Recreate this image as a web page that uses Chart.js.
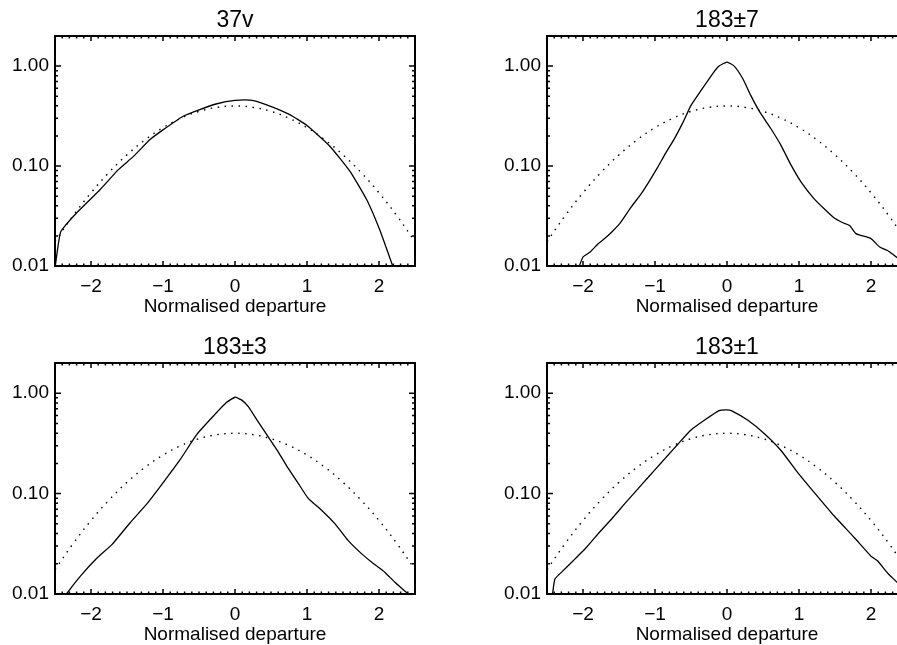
<!DOCTYPE html>
<html>
<head>
<meta charset="utf-8">
<script src="https://cdn.jsdelivr.net/npm/chart.js@4.4.0/dist/chart.umd.min.js"></script>
<style>
  html, body { margin: 0; padding: 0; background: #fff; overflow: hidden; width: 897px; height: 645px; }
  canvas { position: absolute; }
</style>
</head>
<body>
<canvas id="c1" width="448" height="320" style="left:0;top:0"></canvas>
<canvas id="c2" width="448" height="320" style="left:492px;top:0"></canvas>
<canvas id="c3" width="448" height="321" style="left:0;top:327px"></canvas>
<canvas id="c4" width="448" height="321" style="left:492px;top:327px"></canvas>
<script>
// Axis ticks
const xTicks = [-2, -1, 0, 1, 2];
const yTicks = [0.01, 0.1, 1];
const yTickLabels = ['0.01', '0.10', '1.00'];
const xLabel = 'Normalised departure';

// Reference normal curve (dotted)
const gaussX = [-2.5, -2.25, -2, -1.75, -1.5, -1.25, -1, -0.75, -0.5, -0.25, 0,
                0.25, 0.5, 0.75, 1, 1.25, 1.5, 1.75, 2, 2.25, 2.5];
const gaussY = [0.0175, 0.0317, 0.054, 0.0863, 0.1295, 0.1826, 0.242, 0.3011, 0.3521, 0.3867, 0.3989,
                0.3867, 0.3521, 0.3011, 0.242, 0.1826, 0.1295, 0.0863, 0.054, 0.0317, 0.0175];

// Observed distributions (solid)
const x37v = [-2.5, -2.42, -2.2, -1.875, -1.62, -1.41, -1.18, -1.0, -0.72, -0.49, -0.25, 0, 0.21,
              0.44, 0.76, 1.0, 1.32, 1.6, 1.83, 2.01, 2.19, 2.3];
const y37v = [0.0095, 0.022, 0.034, 0.058, 0.092, 0.125, 0.184, 0.23, 0.315, 0.367, 0.42, 0.453, 0.456,
              0.41, 0.327, 0.254, 0.157, 0.088, 0.046, 0.023, 0.01, 0.006];

const x183p7 = [-2.1, -2.0, -1.90, -1.79, -1.70, -1.60, -1.49, -1.33, -1.19, -1.10, -0.96, -0.87, -0.73, -0.61,
                -0.50, -0.36, -0.20, -0.11, 0, 0.10, 0.22, 0.33, 0.45, 0.61, 0.75, 0.89, 1.03, 1.21, 1.35,
                1.49, 1.61, 1.70, 1.79, 2.0, 2.12, 2.23, 2.32, 2.37, 2.5];
const y183p7 = [0.008, 0.0123, 0.0138, 0.0167, 0.0188, 0.0219, 0.0265, 0.039, 0.053, 0.0666, 0.098, 0.128, 0.188, 0.275,
                0.404, 0.571, 0.838, 1.0, 1.097, 1.0, 0.747, 0.509, 0.352, 0.236, 0.161, 0.102, 0.069, 0.047, 0.0374,
                0.0302, 0.0271, 0.0255, 0.0211, 0.0188, 0.0155, 0.0143, 0.0128, 0.012, 0.0095];

const x183p3 = [-2.45, -2.34, -2.15, -1.92, -1.71, -1.46, -1.23, -1.0, -0.76, -0.53, -0.30, -0.12, 0,
                0.09, 0.185, 0.32, 0.46, 0.60, 0.74, 0.88, 1.02, 1.18, 1.39, 1.57, 1.76, 1.90, 2.08, 2.22, 2.38, 2.5];
const y183p3 = [0.0075, 0.01, 0.015, 0.0227, 0.031, 0.051, 0.078, 0.128, 0.219, 0.389, 0.593, 0.807, 0.912,
                0.858, 0.735, 0.521, 0.369, 0.261, 0.178, 0.126, 0.089, 0.0708, 0.050, 0.0342, 0.0251, 0.0207, 0.0165, 0.0131, 0.0104, 0.0085];

const x183p1 = [-2.45, -2.42, -2.39, -2.29, -2.11, -1.97, -1.79, -1.60, -1.42, -1.24, -1.10, -0.91, -0.82, -0.68,
                -0.50, -0.31, -0.11, 0, 0.06, 0.29, 0.52, 0.75, 0.98, 1.21, 1.49, 1.77, 2.0, 2.09, 2.23, 2.37, 2.5];
const y183p1 = [0.008, 0.0104, 0.0141, 0.0167, 0.0224, 0.0282, 0.0398, 0.0562, 0.0794, 0.111, 0.144, 0.204, 0.241, 0.312,
                0.43, 0.541, 0.671, 0.681, 0.67, 0.537, 0.395, 0.269, 0.163, 0.103, 0.0598, 0.0363, 0.0238, 0.0214, 0.0162, 0.0129, 0.0102];

const panels = [
  { id: 'c1', title: '37v', x: x37v, y: y37v },
  { id: 'c2', title: '183\u00b17', x: x183p7, y: y183p7 },
  { id: 'c3', title: '183\u00b13', x: x183p3, y: y183p3 },
  { id: 'c4', title: '183\u00b11', x: x183p1, y: y183p1 },
];

const FONT = '"Liberation Sans", Arial, Helvetica, sans-serif';

const toPoints = (xs, ys) => xs.map((v, i) => ({ x: v, y: ys[i] }));

// Box frame with inward major/minor ticks (IDL style)
const boxTicks = {
  id: 'boxTicks',
  afterDatasetsDraw(chart) {
    const { ctx, chartArea: a, scales: { x, y } } = chart;
    ctx.save();
    ctx.strokeStyle = '#000';
    ctx.lineWidth = 1.5;
    ctx.beginPath();
    for (let i = -25; i <= 25; i++) {
      const px = x.getPixelForValue(i / 10);
      const len = i % 10 === 0 ? 5 : 2.5;
      ctx.moveTo(px, a.bottom); ctx.lineTo(px, a.bottom - len);
      ctx.moveTo(px, a.top); ctx.lineTo(px, a.top + len);
    }
    for (let e = -2; e <= 0; e++) {
      for (let m = 1; m <= 9; m++) {
        const v = m * Math.pow(10, e);
        if (v > y.max) break;
        const py = y.getPixelForValue(v);
        const len = m === 1 ? 6 : 3;
        ctx.moveTo(a.left, py); ctx.lineTo(a.left + len, py);
        ctx.moveTo(a.right, py); ctx.lineTo(a.right - len, py);
      }
    }
    ctx.stroke();
    ctx.lineWidth = 2;
    ctx.strokeRect(a.left, a.top, a.width, a.height);
    ctx.restore();
  }
};

panels.forEach(p => {
  new Chart(document.getElementById(p.id), {
    type: 'line',
    data: {
      datasets: [
        {
          data: toPoints(p.x, p.y),
          borderColor: '#000',
          borderWidth: 1.3,
          pointRadius: 0,
          tension: 0.15,
        },
        {
          data: toPoints(gaussX, gaussY),
          borderColor: '#000',
          borderWidth: 1.4,
          borderDash: [1.5, 5.5],
          pointRadius: 0,
          tension: 0.4,
        }
      ]
    },
    options: {
      responsive: false,
      animation: false,
      layout: { padding: { left: 0, right: 33, top: 0, bottom: 0 } },
      plugins: {
        legend: { display: false },
        tooltip: { enabled: false },
        title: {
          display: true,
          text: p.title,
          fullSize: false,
          color: '#000',
          font: { family: FONT, size: 23, weight: 'normal' },
          padding: { top: 7, bottom: 1.4 }
        }
      },
      scales: {
        x: {
          type: 'linear',
          min: -2.5,
          max: 2.5,
          grid: { display: false, drawTicks: false },
          border: { display: false },
          afterBuildTicks: s => { s.ticks = xTicks.map(v => ({ value: v })); },
          afterFit: s => { s.height = 54; },
          ticks: {
            color: '#000',
            padding: 9,
            maxRotation: 0,
            font: { family: FONT, size: 19 },
            callback: v => String(v).replace('-', '\u2212')
          },
          title: {
            display: true,
            text: xLabel,
            color: '#000',
            font: { family: FONT, size: 19 },
            padding: { top: 0, bottom: 2 }
          }
        },
        y: {
          type: 'logarithmic',
          min: 0.01,
          max: 2,
          grid: { display: false, drawTicks: false },
          border: { display: false },
          afterBuildTicks: s => { s.ticks = yTicks.map(v => ({ value: v })); },
          afterFit: s => { s.width = 55; },
          ticks: {
            color: '#000',
            padding: 6,
            font: { family: FONT, size: 19 },
            callback: v => yTickLabels[yTicks.indexOf(v)]
          }
        }
      }
    },
    plugins: [boxTicks]
  });
});
</script>
</body>
</html>
